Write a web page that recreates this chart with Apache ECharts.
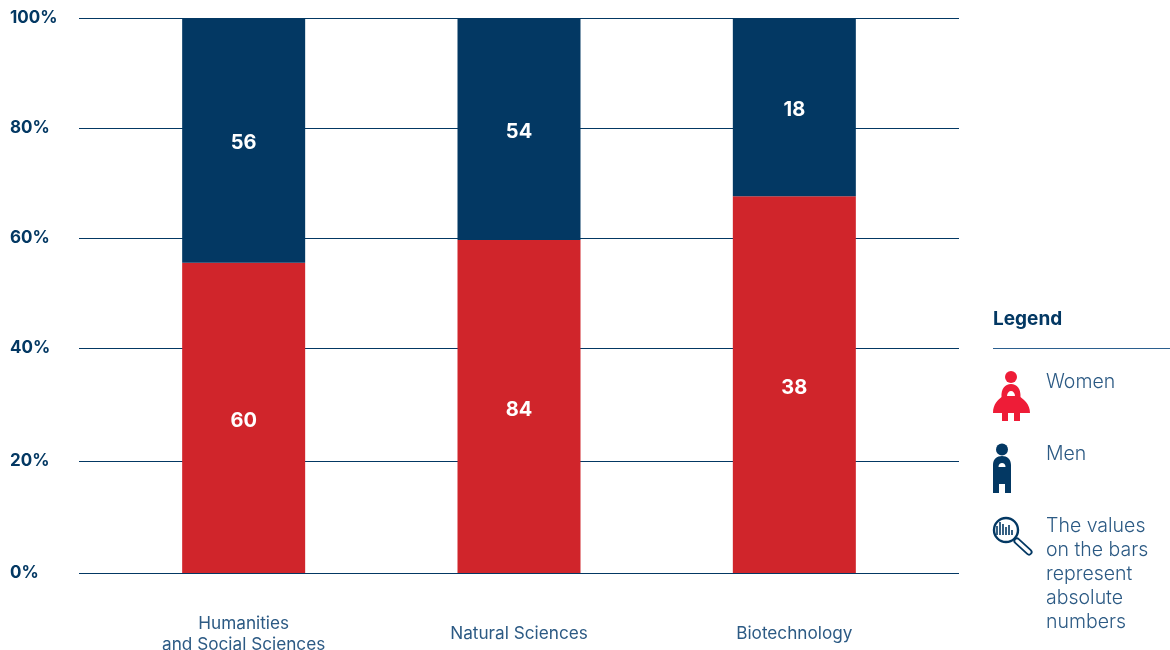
<!DOCTYPE html>
<html>
<head>
<meta charset="utf-8">
<style>html,body{margin:0;padding:0;background:#fff}#c{width:1170px;height:650px}</style>
<script src="https://cdn.jsdelivr.net/npm/echarts@6/dist/echarts.min.js"></script>
</head>
<body>
<div id="c"></div>
<script>
const categories = ['Humanities\nand Social Sciences', 'Natural Sciences', 'Biotechnology'];
const womenShare = [55.9, 60, 67.9];
const menShare = [44.1, 40, 32.1];
const womenCount = [60, 84, 38];
const menCount = [56, 54, 18];
const tickValues = [0, 20.2, 40.5, 60.4, 80.2, 100];
const noteLines = ['The values', 'on the bars', 'represent', 'absolute', 'numbers'];

const NAVY = '#033863', RED = '#d0252b', ICON_RED = '#ee1c37', TXT = '#2c5a84';
const FONT = 'Inter, "Open Sans", sans-serif';

const chart = echarts.init(document.getElementById('c'), null, {renderer: 'canvas'});

let shapeId = 0;
function txt(x, y, text, extra) {
  return {type: 'text', x, y, silent: true,
    style: Object.assign({text, fill: TXT, font: '300 19.5px ' + FONT, textVerticalAlign: 'middle'}, extra || {})};
}
function path(d, style) {
  const name = 'iconShape' + (shapeId++);
  echarts.graphic.registerShape(name, echarts.graphic.extendPath(d));
  return {type: name, silent: true, style};
}
const barLines = [[997,526,535],[1000,522,535],[1003,524,535],[1006,527,535],[1009,525,535],[1012,530,535]];

const graphics = [
  txt(993, 319.5, 'Legend', {fill: NAVY, font: 'bold 19px ' + FONT}),
  {type: 'line', silent: true, shape: {x1: 993, y1: 348.5, x2: 1170, y2: 348.5}, style: {stroke: '#2b5f8f', lineWidth: 1.2}},
  // women icon
  {type: 'circle', silent: true, shape: {cx: 1011, cy: 377, r: 6}, style: {fill: ICON_RED}},
  path('M1002 421V413H993C993 404 998 400 1001.5 397C1001 389 1005 384 1011 384C1017 384 1021 389 1020.5 397C1024 400 1030 404 1030 413H1020V421H1014V413H1008V421Z', {fill: ICON_RED}),
  path('M1007 396C1007 393 1009 391 1011 391C1013 391 1015 393 1015 396Z', {fill: '#fff'}),
  txt(1046, 382, 'Women'),
  // men icon
  {type: 'circle', silent: true, shape: {cx: 1002, cy: 449.5, r: 6}, style: {fill: NAVY}},
  path('M993 493V465C993 459 997 456 1002 456C1007 456 1011 459 1011 465V493H1005V484H999V493Z', {fill: NAVY}),
  path('M998.5 467C998.5 464.5 1000 463 1002 463C1004 463 1005.5 464.5 1005.5 467Z', {fill: '#fff'}),
  txt(1046, 454, 'Men'),
  // magnifier icon
  {type: 'line', silent: true, shape: {x1: 1017, y1: 541, x2: 1029, y2: 552}, style: {stroke: NAVY, lineWidth: 7, lineCap: 'round'}},
  {type: 'line', silent: true, shape: {x1: 1017, y1: 541, x2: 1029, y2: 552}, style: {stroke: '#fff', lineWidth: 3.4, lineCap: 'round'}},
  {type: 'circle', silent: true, shape: {cx: 1006, cy: 530, r: 12}, style: {fill: '#fff', stroke: NAVY, lineWidth: 2.4}}
];
barLines.forEach(b => graphics.push({type: 'line', silent: true, shape: {x1: b[0], y1: b[1], x2: b[0], y2: b[2]}, style: {stroke: NAVY, lineWidth: 1.6}}));
noteLines.forEach((t, i) => graphics.push(txt(1046, 526 + i * 24, t)));

chart.setOption({
  animation: false,
  backgroundColor: '#fff',
  grid: [
    {left: 79, width: 880, top: 18, height: 555, containLabel: false, outerBoundsMode: 'none'},
    {left: 106, width: 826, top: 18, height: 555, containLabel: false, outerBoundsMode: 'none'}
  ],
  xAxis: [
    {gridIndex: 0, type: 'category', data: categories, show: false},
    {gridIndex: 1, type: 'category', data: categories,
      axisLine: {show: false}, axisTick: {show: false},
      axisLabel: {margin: 61, color: TXT, fontFamily: FONT, fontSize: 17.2, fontWeight: 400, lineHeight: 21, verticalAlign: 'middle', interval: 0}}
  ],
  yAxis: [
    {gridIndex: 0, type: 'value', min: 0, max: 100,
      axisLine: {show: false},
      axisTick: {show: false, customValues: tickValues},
      axisLabel: {customValues: tickValues, align: 'left', margin: 69, padding: [4, 0, 0, 0], color: NAVY, fontFamily: FONT, fontSize: 17, fontWeight: 'bold',
        formatter: v => Math.round(v / 20) * 20 + '%'},
      splitLine: {show: true, lineStyle: {color: NAVY, width: 1.2}}},
    {gridIndex: 1, type: 'value', min: 0, max: 100, show: false, splitLine: {show: false}}
  ],
  series: [
    {name: 'Women', type: 'bar', xAxisIndex: 1, yAxisIndex: 1, stack: 's', barWidth: 123, data: womenShare, z: 3,
      itemStyle: {color: RED},
      label: {show: true, position: 'inside', offset: [0, 3], color: '#fff', fontFamily: FONT, fontSize: 20, fontWeight: 'bold', formatter: p => womenCount[p.dataIndex]}},
    {name: 'Men', type: 'bar', xAxisIndex: 1, yAxisIndex: 1, stack: 's', barWidth: 123, data: menShare, z: 3,
      itemStyle: {color: NAVY},
      label: {show: true, position: 'inside', offset: [0, 3], color: '#fff', fontFamily: FONT, fontSize: 20, fontWeight: 'bold', formatter: p => menCount[p.dataIndex]}}
  ],
  graphic: {elements: graphics}
});
</script>
</body>
</html>
